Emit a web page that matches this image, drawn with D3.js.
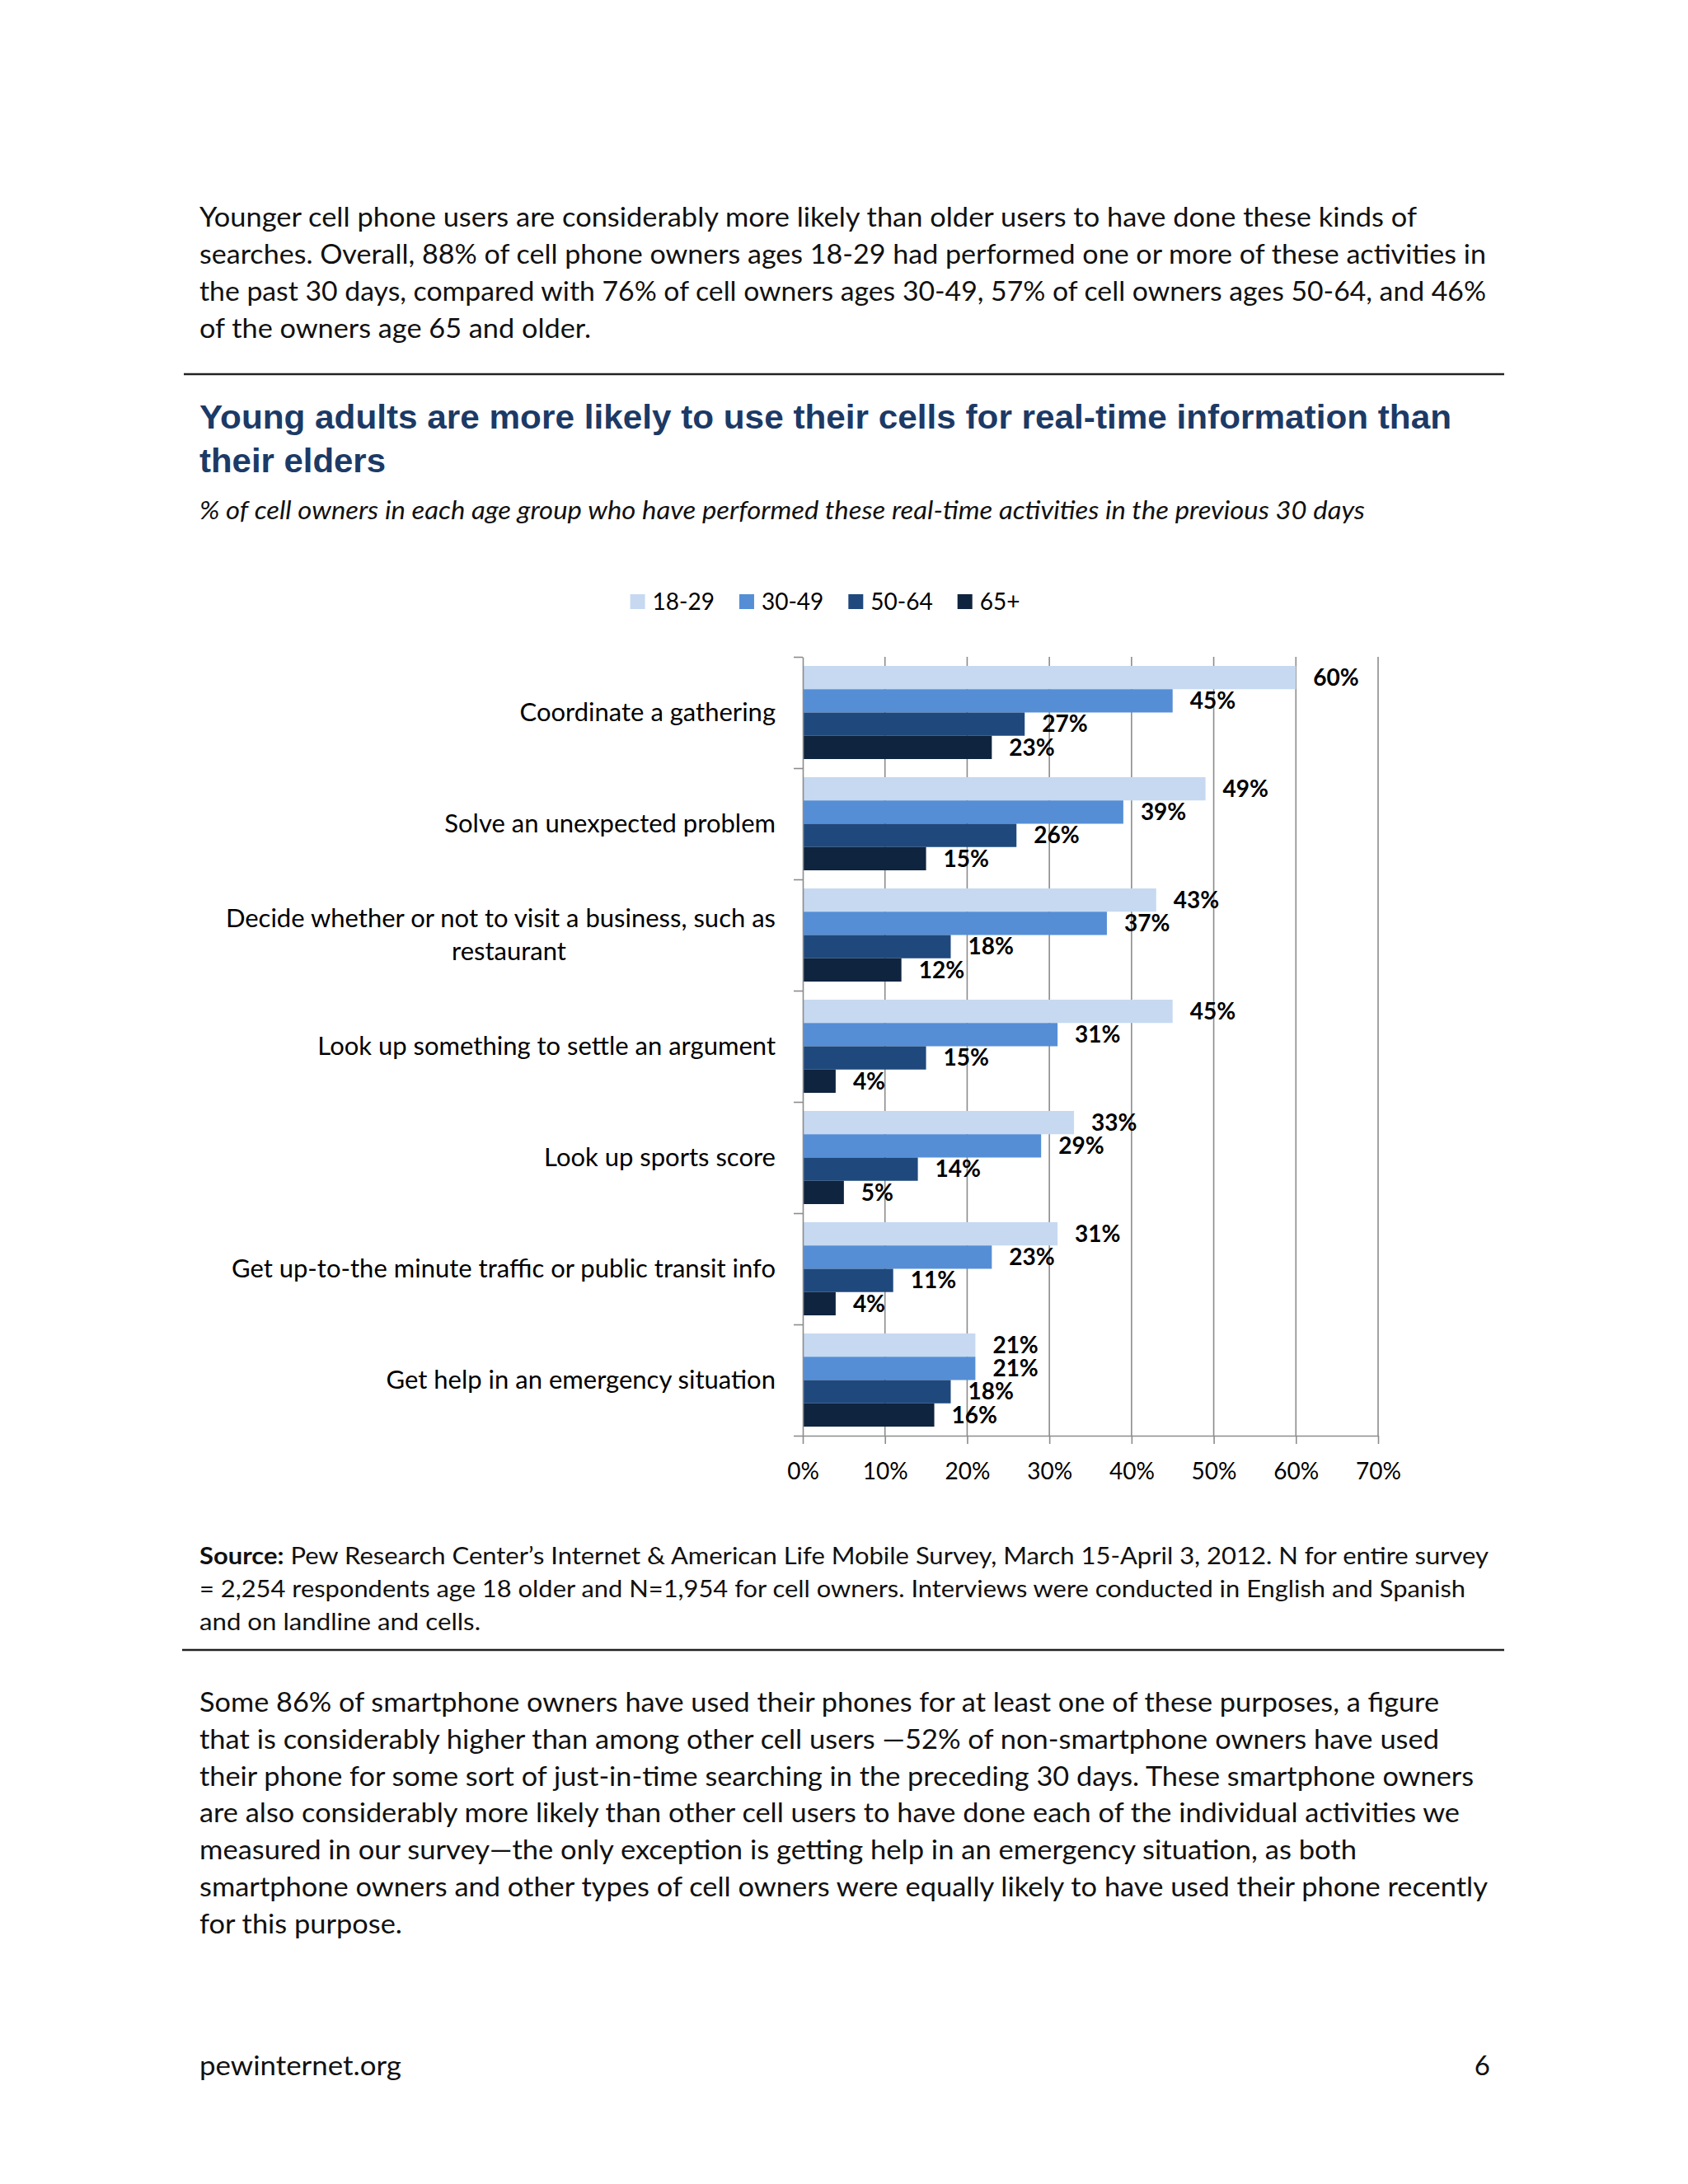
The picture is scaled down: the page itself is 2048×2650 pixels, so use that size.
<!DOCTYPE html>
<html>
<head>
<meta charset="utf-8">
<script src="https://cdn.jsdelivr.net/npm/d3@7"></script>
<style>
  html, body { margin: 0; padding: 0; background: #fff; }
  svg { display: block; }
</style>
</head>
<body>
<svg id="page" width="2048" height="2650"></svg>
<script>
// ---- data -------------------------------------------------------------
var categories = [
  'Coordinate a gathering',
  'Solve an unexpected problem',
  'Decide whether or not to visit a business, such as\nrestaurant',
  'Look up something to settle an argument',
  'Look up sports score',
  'Get up-to-the minute traffic or public transit info',
  'Get help in an emergency situation'
]
var series = ['18-29', '30-49', '50-64', '65+']
var age1829 = [60, 49, 43, 45, 33, 31, 21]
var age3049 = [45, 39, 37, 31, 29, 23, 21]
var age5064 = [27, 26, 18, 15, 14, 11, 18]
var age65 = [23, 15, 12, 4, 5, 4, 16]
var xTicks = [0, 10, 20, 30, 40, 50, 60, 70]
var colors = ['#c6d9f1', '#558ed5', '#1f497d', '#0f243e']

var introLines = [
  'Younger cell phone users are considerably more likely than older users to have done these kinds of',
  'searches. Overall, 88% of cell phone owners ages 18-29 had performed one or more of these activities in',
  'the past 30 days, compared with 76% of cell owners ages 30-49, 57% of cell owners ages 50-64, and 46%',
  'of the owners age 65 and older.'
]
var titleLines = [
  'Young adults are more likely to use their cells for real-time information than',
  'their elders'
]
var subtitle = '% of cell owners in each age group who have performed these real-time activities in the previous 30 days'
var sourceLines = [
  ' Pew Research Center\u2019s Internet & American Life Mobile Survey, March 15-April 3, 2012. N for entire survey',
  '= 2,254 respondents age 18 older and N=1,954 for cell owners. Interviews were conducted in English and Spanish',
  'and on landline and cells.'
]
var outroLines = [
  'Some 86% of smartphone owners have used their phones for at least one of these purposes, a figure',
  'that is considerably higher than among other cell users \u201452% of non-smartphone owners have used',
  'their phone for some sort of just-in-time searching in the preceding 30 days. These smartphone owners',
  'are also considerably more likely than other cell users to have done each of the individual activities we',
  'measured in our survey\u2014the only exception is getting help in an emergency situation, as both',
  'smartphone owners and other types of cell owners were equally likely to have used their phone recently',
  'for this purpose.'
]

var values = [age1829, age3049, age5064, age65]

// ---- page text ----------------------------------------------------------
var svg = d3.select('#page')
var font = 'Lato, "Open Sans", sans-serif'
var ink = '#111'

function textBlock (lines, widths, x, y0, lh, o) {
  lines.forEach(function (ln, i) {
    var t = svg.append('text')
        .attr('x', x)
        .attr('y', y0 + i * lh)
        .attr('fill', o.fill || ink)
        .style('font-family', o.family || font)
        .style('font-size', o.size + 'px')
        .style('font-weight', o.weight || 'normal')
        .style('font-style', o.style || 'normal')
    if (o.lead && i === 0) {
      t.append('tspan').style('font-weight', 'bold').text(o.lead)
      t.append('tspan').text(ln)
    } else {
      t.text(ln)
    }
    if (widths && widths[i]) {
      t.attr('textLength', widths[i]).attr('lengthAdjust', 'spacingAndGlyphs')
    }
  })
}

textBlock(introLines, [1477, 1561, 1561, 475], 242, 275, 45, {size: 33})

svg.append('line')
    .attr('x1', 223).attr('x2', 1825)
    .attr('y1', 454).attr('y2', 454)
    .attr('stroke', '#222').attr('stroke-width', 2.5)

textBlock(titleLines, [1519, 226], 242, 520, 53,
  {size: 41, weight: 'bold', fill: '#1c3a66', family: '"Liberation Sans", Arial, sans-serif'})

textBlock([subtitle], [1414], 242, 630, 0, {size: 30, style: 'italic'})

textBlock(sourceLines, [1564, 1536, 341], 242, 1898, 40, {size: 28, lead: 'Source:'})

svg.append('line')
    .attr('x1', 221).attr('x2', 1825)
    .attr('y1', 2002).attr('y2', 2002)
    .attr('stroke', '#222').attr('stroke-width', 2.5)

textBlock(outroLines, [1504, 1504, 1546, 1529, 1404, 1563, 246], 242, 2077, 44.8, {size: 33})

textBlock(['pewinternet.org'], [245], 242, 2518, 0, {size: 33})
svg.append('text')
    .attr('x', 1808).attr('y', 2518)
    .attr('text-anchor', 'end')
    .attr('fill', ink)
    .style('font-family', font)
    .style('font-size', '33px')
    .text('6')

// ---- chart ----------------------------------------------------------------
var width = 698
var height = 945
var axisColor = '#8c8c8c'
var labelSize = 31

var chart = svg.append('g').attr('transform', 'translate(974,797)')

var x = d3.scaleLinear().domain([0, 70]).range([0, width])
var y = d3.scaleBand().domain(categories).range([0, height])
    .paddingInner(0.163).paddingOuter(0.0815)
var ySub = d3.scaleBand().domain(series).range([0, y.bandwidth()])
var color = d3.scaleOrdinal().domain(series).range(colors)

// gridlines
chart.append('g').classed('grid', true)
  .selectAll('line')
  .data(xTicks.slice(1))
  .enter().append('line')
    .attr('x1', d => x(d)).attr('x2', d => x(d))
    .attr('y1', 0).attr('y2', height)
    .attr('stroke', axisColor).attr('stroke-width', 1.6)

// bars
var rows = categories.map(function (c, i) {
  return {cat: c, vals: series.map(function (s, j) { return {s: s, v: values[j][i]} })}
})

var group = chart.selectAll('.cat')
    .data(rows)
  .enter().append('g')
    .classed('cat', true)
    .attr('transform', d => `translate(0,${y(d.cat)})`)

group.selectAll('rect')
    .data(d => d.vals)
  .enter().append('rect')
    .attr('x', 0)
    .attr('y', d => ySub(d.s))
    .attr('width', d => x(d.v))
    .attr('height', ySub.bandwidth())
    .attr('fill', d => color(d.s))

group.selectAll('text.val')
    .data(d => d.vals)
  .enter().append('text')
    .classed('val', true)
    .attr('x', d => x(d.v) + 21)
    .attr('y', d => ySub(d.s) + ySub.bandwidth() / 2)
    .attr('dy', '0.35em')
    .attr('fill', '#000')
    .style('font-family', font)
    .style('font-size', '28px')
    .style('font-weight', 'bold')
    .text(d => d.v + '%')

// y axis: boundaries between categories
var yEdges = d3.scaleLinear().domain([0, categories.length]).range([0, height])
chart.append('g')
    .call(d3.axisLeft(yEdges)
      .tickValues(d3.range(categories.length + 1))
      .tickFormat('')
      .tickSizeInner(11)
      .tickSizeOuter(0))

// x axis
var xAxis = chart.append('g')
    .attr('transform', `translate(0,${height})`)
    .call(d3.axisBottom(x)
      .tickValues(xTicks)
      .tickFormat(d => d + '%')
      .tickSizeInner(10)
      .tickSizeOuter(0)
      .tickPadding(23))

chart.selectAll('.domain, .tick line')
    .attr('stroke', axisColor)
    .attr('stroke-width', 1.6)

xAxis.selectAll('text')
    .attr('fill', '#000')
    .style('font-family', font)
    .style('font-size', '28px')

// category labels
group.each(function (d) {
  var g = d3.select(this)
  var lines = d.cat.split('\n')
  var cy = y.bandwidth() / 2
  var lh = 40
  var first = g.append('text')
      .attr('x', -33)
      .attr('y', cy - (lines.length - 1) * lh / 2)
      .attr('dy', '0.35em')
      .attr('text-anchor', 'end')
      .attr('fill', '#000')
      .style('font-family', font)
      .style('font-size', labelSize + 'px')
      .text(lines[0])
  if (lines.length > 1) {
    var mid = -33 - first.node().getComputedTextLength() / 2
    g.append('text')
        .attr('x', mid + 10)
        .attr('y', cy + lh / 2)
        .attr('dy', '0.35em')
        .attr('text-anchor', 'middle')
        .attr('fill', '#000')
        .style('font-family', font)
        .style('font-size', labelSize + 'px')
        .text(lines[1])
  }
})

// legend, centred over the plot
var legend = svg.append('g').attr('transform', 'translate(0,730)')
var items = legend.selectAll('g')
    .data(series)
  .enter().append('g')

items.append('rect')
    .attr('y', -9).attr('width', 18).attr('height', 18)
    .attr('fill', d => color(d))

items.append('text')
    .attr('x', 27)
    .attr('dy', '0.35em')
    .attr('fill', '#000')
    .style('font-family', font)
    .style('font-size', '28px')
    .text(d => d)

var offsets = []
var pos = 0
items.each(function () {
  offsets.push(pos)
  pos += 27 + d3.select(this).select('text').node().getComputedTextLength() + 30
})
var legendW = pos - 30
var legendX = 1001 - legendW / 2
items.attr('transform', (d, i) => `translate(${legendX + offsets[i]},0)`)
</script>
</body>
</html>
